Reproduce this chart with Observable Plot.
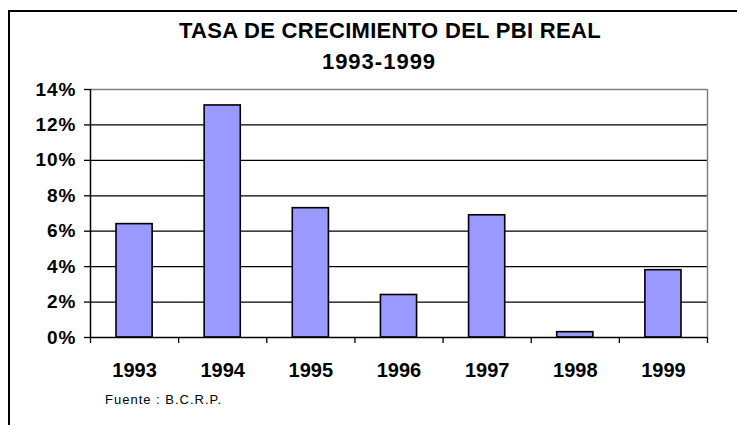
<!DOCTYPE html>
<html>
<head>
<meta charset="utf-8">
<script src="https://cdn.jsdelivr.net/npm/d3@7"></script>
<script src="https://cdn.jsdelivr.net/npm/@observablehq/plot@0.6"></script>
<style>
  html, body { margin: 0; padding: 0; background: #fff; }
  #wrap { position: relative; width: 737px; height: 425px; overflow: hidden; font-family: "Liberation Sans", Arial, sans-serif; }
  #frame { position: absolute; left: 8px; top: 10px; width: 800px; height: 500px; border-top: 2px solid #000; border-left: 2px solid #000; }
  .t { position: absolute; left: 179px; width: 400px; text-align: center; font-weight: bold; font-size: 22px; color: #000; white-space: nowrap; }
  #title { top: 18px; letter-spacing: 0.3px; }
  #subtitle { top: 49px; letter-spacing: 1px; }
  #src { position: absolute; left: 105px; top: 392px; font-size: 13px; letter-spacing: 1px; color: #000; }
  #chart { position: absolute; left: 0; top: 0; }
</style>
</head>
<body>
<div id="wrap">
  <div id="frame"></div>
  <div id="chart"></div>
  <div id="title" class="t">TASA DE CRECIMIENTO DEL PBI REAL</div>
  <div id="subtitle" class="t">1993-1999</div>
  <div id="src">Fuente : B.C.R.P.</div>
</div>
<script>
const years = ["1993", "1994", "1995", "1996", "1997", "1998", "1999"];
const growth = [6.4, 13.1, 7.3, 2.4, 6.9, 0.3, 3.8];
const yTicks = [0, 2, 4, 6, 8, 10, 12, 14];
const gridValues = [2, 4, 6, 8, 10, 12];

const data = years.map((y, i) => ({year: y, i, v: growth[i]}));
const pad = 0.295;

const plot = Plot.plot({
  width: 737,
  height: 425,
  marginLeft: 90,
  marginRight: 30,
  marginTop: 89,
  marginBottom: 88,
  style: {background: "transparent", fontFamily: "Liberation Sans, Arial, sans-serif", overflow: "visible"},
  x: {type: "linear", domain: [0, years.length], axis: null},
  y: {domain: [0, 14], axis: null},
  marks: [
    Plot.ruleY(gridValues, {stroke: "#000", strokeWidth: 1.3}),
    Plot.ruleY([14], {stroke: "#808080", strokeWidth: 1.5}),
    Plot.ruleX([years.length], {stroke: "#808080", strokeWidth: 1.5}),
    Plot.rectY(data, {x1: d => d.i + pad, x2: d => d.i + 1 - pad, y: "v", fill: "#9999FF", stroke: "#000", strokeWidth: 1.6}),
    Plot.ruleX([0], {stroke: "#000", strokeWidth: 1.5}),
    Plot.ruleY([0], {stroke: "#000", strokeWidth: 1.5}),
    Plot.axisY({ticks: yTicks, tickFormat: d => d + "%", label: null, tickSize: 6, tickPadding: 8, fontSize: 19, fontWeight: "bold", stroke: "#000", strokeWidth: 1.3, fill: "#000"}),
    Plot.axisX({ticks: d3.range(years.length + 1), tickFormat: () => "", label: null, tickSize: 6, stroke: "#000", strokeWidth: 1.3}),
    Plot.text(data, {x: d => d.i + 0.5, y: () => 0, text: "year", dy: 33, fontSize: 20, fontWeight: "bold", fill: "#000", textAnchor: "middle"})
  ]
});
plot.querySelectorAll("text").forEach(t => {
  if (t.closest("g[aria-label='y-axis tick label']")) t.style.letterSpacing = "1px";
});
document.getElementById("chart").appendChild(plot);
</script>
</body>
</html>
